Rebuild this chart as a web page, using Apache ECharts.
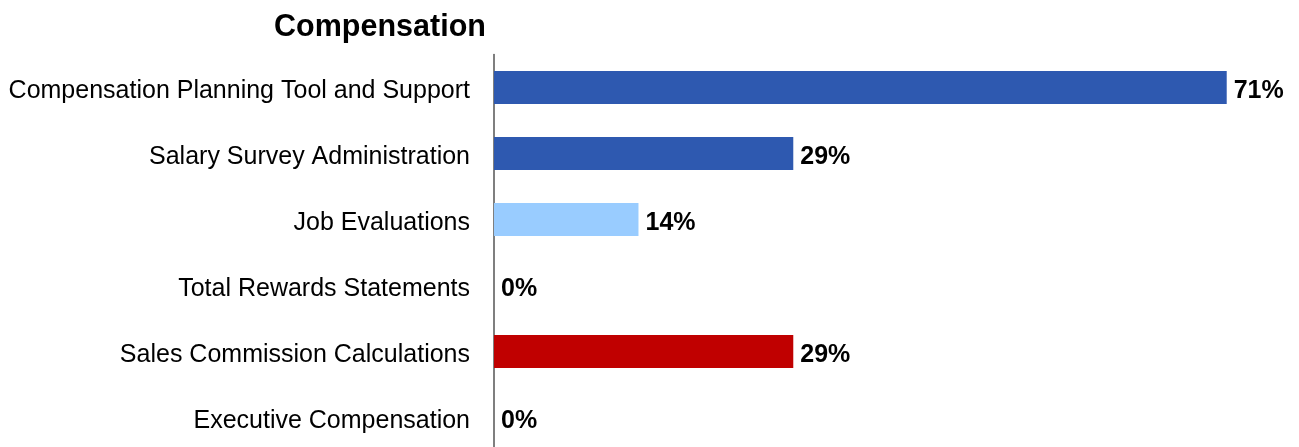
<!DOCTYPE html>
<html>
<head>
<meta charset="utf-8">
<script src="https://cdn.jsdelivr.net/npm/echarts@6/dist/echarts.min.js"></script>
<style>html,body{margin:0;padding:0;background:#fff}#c{width:1299px;height:447px}</style>
</head>
<body>
<div id="c"></div>
<script>
const categories = ["Compensation Planning Tool and Support","Salary Survey Administration","Job Evaluations","Total Rewards Statements","Sales Commission Calculations","Executive Compensation"];
const values = [71, 29, 14, 0, 29, 0];
const barColors = ["#2E59B0","#2E59B0","#99CCFF","#2E59B0","#C00000","#2E59B0"];

const chart = echarts.init(document.getElementById('c'), null, {renderer:'canvas'});
chart.setOption({
  animation:false,
  backgroundColor:'#fff',
  title:{text:'Compensation', left:375, top:7, textAlign:'center',
    textStyle:{fontFamily:'Liberation Sans, Arial', fontSize:30.5, fontWeight:'bold', color:'#000'}},
  grid:{left:494, right:31, top:54.5, height:396, containLabel:false, outerBoundsMode:'none'},
  xAxis:{type:'value', min:0, max:75, show:false},
  yAxis:{type:'category', inverse:true, data:categories,
    axisLine:{show:true, lineStyle:{color:'#555', width:1.5}},
    axisTick:{show:false},
    axisLabel:{margin:24, fontFamily:'Liberation Sans, Arial', fontSize:25, color:'#000',
      formatter: v => '{a|' + v + '}',
      rich:{a:{fontFamily:'Liberation Sans, Arial', fontSize:25, color:'#000', padding:[8,0,0,0]}}}},
  series:[{type:'bar', barWidth:'50%',
    data: values.map((v,i)=>({value:v, itemStyle:{color:barColors[i]}})),
    label:{show:true, position:'right', distance:7, formatter:'{c}%', offset:[0,4],
      fontFamily:'Liberation Sans, Arial', fontSize:25, fontWeight:'bold', color:'#000'}}]
});
</script>
</body>
</html>
